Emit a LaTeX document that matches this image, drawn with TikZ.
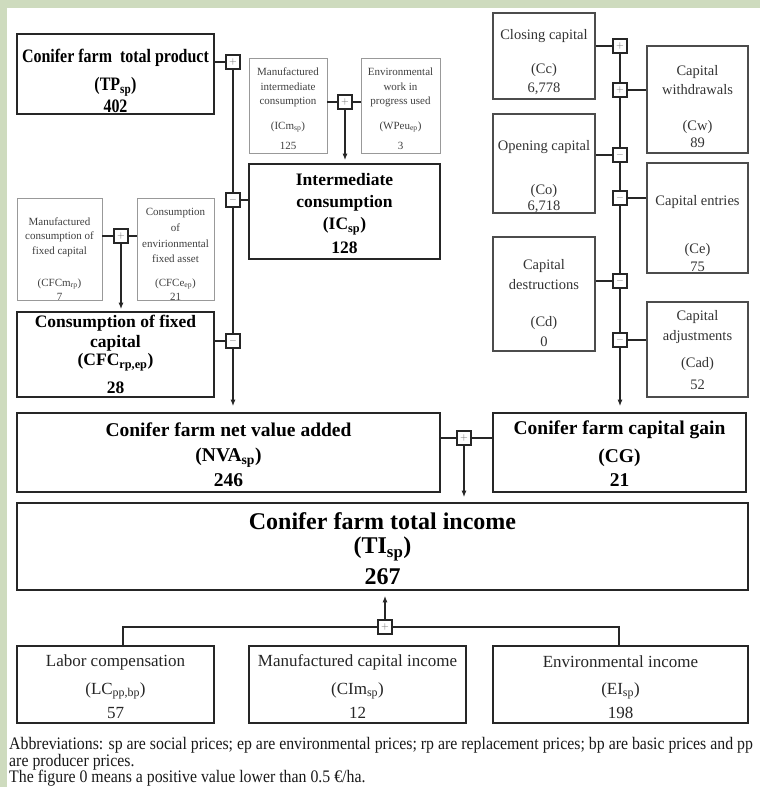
\documentclass[tikz,border=0pt]{standalone}
\usepackage{fontspec}
\setmainfont{Liberation Serif}
\newfontfamily\condtp[FakeStretch=0.84]{Liberation Serif}
\newfontfamily\condft[FakeStretch=0.9]{Liberation Serif}
\usetikzlibrary{arrows.meta}
\definecolor{bggreen}{RGB}{206,219,190}
\tikzset{
  bigbox/.style={draw=black!85, line width=1.6pt, inner sep=0pt},
  smallbox/.style={draw=black!40, line width=0.8pt, inner sep=0pt},
  capbox/.style={draw=black!70, line width=1.1pt, inner sep=0pt},
  signbox/.style={draw=black!85, fill=white, line width=1.3pt, minimum size=14pt, inner sep=0pt, font=\fontsize{10}{10}\selectfont, text=black!60},
  conn/.style={draw=black!85, line width=1.3pt},
  arr/.style={conn, -{Latex[length=6.5pt,width=5pt]}},
  txt/.style={inner sep=0pt, anchor=center},
  btA/.style={txt, font=\condtp\bfseries\fontsize{19}{21}\selectfont},
  btB/.style={txt, font=\bfseries\fontsize{17.5}{20}\selectfont},
  btC/.style={txt, font=\bfseries\fontsize{19.5}{22}\selectfont},
  btD/.style={txt, font=\bfseries\fontsize{24}{27}\selectfont},
  stx/.style={txt, font=\fontsize{11}{13}\selectfont, text=black!75},
  rtx/.style={txt, font=\fontsize{14.5}{17}\selectfont, text=black!80},
  ltx/.style={txt, font=\fontsize{17}{19}\selectfont, text=black!85},
  ftx/.style={inner sep=0pt, anchor=west, font=\condft\fontsize{17.6}{19}\selectfont, text=black!90},
}
\begin{document}
\begin{tikzpicture}[x=1pt,y=-1pt]
\useasboundingbox (0,0) rectangle (760,787);
\fill[bggreen] (0,0) rectangle (760,787);
\fill[white] (7,8) rectangle (760,787);

% ---------- boxes ----------
\node[bigbox, minimum width=197, minimum height=80] (tp) at (115.5,74) {};
\node[smallbox, minimum width=78, minimum height=95] (icm) at (288,105.5) {};
\node[smallbox, minimum width=79, minimum height=95] (wpeu) at (400.5,105.5) {};
\node[bigbox, minimum width=191, minimum height=95] (ic) at (344.5,211.5) {};
\node[smallbox, minimum width=85, minimum height=102] (cfcm) at (59.5,249) {};
\node[smallbox, minimum width=77, minimum height=102] (cfce) at (175.5,249) {};
\node[bigbox, minimum width=197, minimum height=85] (cfc) at (115.5,354.5) {};
\node[bigbox, minimum width=423, minimum height=79] (nva) at (228.5,452.5) {};
\node[bigbox, minimum width=253, minimum height=79] (cg) at (619.5,452.5) {};
\node[bigbox, minimum width=731, minimum height=87] (ti) at (382.5,546.5) {};
\node[bigbox, minimum width=197, minimum height=77] (lc) at (115.5,684.5) {};
\node[bigbox, minimum width=217, minimum height=77] (mci) at (357.5,684.5) {};
\node[bigbox, minimum width=255, minimum height=77] (ei) at (620.5,684.5) {};
\node[capbox, minimum width=102, minimum height=86] (cc) at (544,56) {};
\node[capbox, minimum width=101, minimum height=107] (cw) at (697.5,99.5) {};
\node[capbox, minimum width=102, minimum height=99] (co) at (544,163.5) {};
\node[capbox, minimum width=101, minimum height=110] (ce) at (697.5,218) {};
\node[capbox, minimum width=102, minimum height=114] (cd) at (544,294) {};
\node[capbox, minimum width=101, minimum height=95] (cad) at (697.5,349.5) {};

% ---------- sign squares ----------
\node[signbox] (s1) at (233,62) {$+$};
\node[signbox] (s2) at (233,200) {$-$};
\node[signbox] (s3) at (233,341) {$-$};
\node[signbox] (sic) at (345,102) {$+$};
\node[signbox] (scfc) at (121,236) {$+$};
\node[signbox] (snet) at (464,438) {$+$};
\node[signbox] (stot) at (385,627) {$+$};
\node[signbox] (r1) at (620,46) {$+$};
\node[signbox] (r2) at (620,90) {$+$};
\node[signbox] (r3) at (620,155) {$-$};
\node[signbox] (r4) at (620,198) {$-$};
\node[signbox] (r5) at (620,281) {$-$};
\node[signbox] (r6) at (620,340) {$-$};
\coordinate (tl) at (123,627);
\coordinate (tr) at (619,627);

% ---------- connectors ----------
\draw[conn] (s1.west -| tp.east) -- (s1.west);
\draw[conn] (s1.south) -- (s2.north);
\draw[conn] (s2.south) -- (s3.north);
\draw[conn] (s2.east) -- (s2 -| ic.west);
\draw[conn] (s3 -| cfc.east) -- (s3.west);
\draw[arr, shorten >=6pt] (s3.south) -- (s3 |- nva.north);
\draw[conn] (sic -| icm.east) -- (sic.west);
\draw[conn] (sic.east) -- (sic -| wpeu.west);
\draw[arr, shorten >=3pt] (sic.south) -- (sic |- ic.north);
\draw[conn] (scfc -| cfcm.east) -- (scfc.west);
\draw[conn] (scfc.east) -- (scfc -| cfce.west);
\draw[arr, shorten >=2pt] (scfc.south) -- (scfc |- cfc.north);
\draw[conn] (r1 -| cc.east) -- (r1.west);
\draw[conn] (r1.south) -- (r2.north);
\draw[conn] (r2.east) -- (r2 -| cw.west);
\draw[conn] (r2.south) -- (r3.north);
\draw[conn] (r3 -| co.east) -- (r3.west);
\draw[conn] (r3.south) -- (r4.north);
\draw[conn] (r4.east) -- (r4 -| ce.west);
\draw[conn] (r4.south) -- (r5.north);
\draw[conn] (r5 -| cd.east) -- (r5.west);
\draw[conn] (r5.south) -- (r6.north);
\draw[conn] (r6.east) -- (r6 -| cad.west);
\draw[arr, shorten >=6pt] (r6.south) -- (r6 |- cg.north);
\draw[conn] (snet -| nva.east) -- (snet.west);
\draw[conn] (snet.east) -- (snet -| cg.west);
\draw[arr, shorten >=5pt] (snet.south) -- (snet |- ti.north);
\draw[conn] (tl |- lc.north) -- (tl) -- (stot.west);
\draw[conn] (stot.east) -- (tr) -- (tr |- ei.north);
\draw[arr, shorten >=5pt] (stot.north) -- (stot |- ti.south);

% ---------- texts ----------
\node[btA] (tpa) at (115.5,58) {Conifer farm\ \ total product};
\node[btA] (tpb) at (115.5,87) {(TP\textsubscript{sp})};
\node[btA] (tpc) at (115.5,106.5) {402};

\node[stx] (icma) at (288,72) {Manufactured};
\node[stx] (icmb) at (288,87) {intermediate};
\node[stx] (icmc) at (288,102) {consumption};
\node[stx] (icmd) at (288,127) {(ICm\textsubscript{sp})};
\node[stx] (icme) at (288,146) {125};

\node[stx] (wpa) at (400.5,72) {Environmental};
\node[stx] (wpb) at (400.5,87) {work in};
\node[stx] (wpc) at (400.5,102) {progress used};
\node[stx] (wpd) at (400.5,127) {(WPeu\textsubscript{ep})};
\node[stx] (wpe) at (400.5,146) {3};

\node[btB] (ica) at (344.5,180) {Intermediate};
\node[btB] (icb) at (344.5,203) {consumption};
\node[btB] (icc) at (344.5,226) {(IC\textsubscript{sp})};
\node[btB] (icd) at (344.5,248) {128};

\node[stx] (cfcma) at (59.5,222) {Manufactured};
\node[stx] (cfcmb) at (59.5,237) {consumption of};
\node[stx] (cfcmc) at (59.5,252) {fixed capital};
\node[stx] (cfcmd) at (59.5,284) {(CFCm\textsubscript{rp})};
\node[stx] (cfcme) at (59.5,297) {7};

\node[stx] (cfcea) at (175.5,213) {Consumption};
\node[stx] (cfceb) at (175.5,228) {of};
\node[stx] (cfcec) at (175.5,244) {envirionmental};
\node[stx] (cfced) at (175.5,259) {fixed asset};
\node[stx] (cfcee) at (175.5,284) {(CFCe\textsubscript{ep})};
\node[stx] (cfcef) at (175.5,297) {21};

\node[btB] (cfca) at (115.5,323) {Consumption of fixed};
\node[btB] (cfcb) at (115.5,343) {capital};
\node[btB] (cfcc) at (115.5,362) {(CFC\textsubscript{rp,ep})};
\node[btB] (cfcd) at (115.5,388) {28};

\node[btC] (nvaa) at (228.5,430) {Conifer farm net value added};
\node[btC] (nvab) at (228.5,458) {(NVA\textsubscript{sp})};
\node[btC] (nvac) at (228.5,480) {246};

\node[btC] (cga) at (619.5,430) {Conifer farm capital gain};
\node[btC] (cgb) at (619.5,458) {(CG)};
\node[btC] (cgc) at (619.5,480) {21};

\node[btD] (tia) at (382.5,521) {Conifer farm total income};
\node[btD] (tib) at (382.5,549) {(TI\textsubscript{sp})};
\node[btD] (tic) at (382.5,577) {267};

\node[ltx] (lca) at (115.5,662) {Labor compensation};
\node[ltx] (lcb) at (115.5,691) {(LC\textsubscript{pp,bp})};
\node[ltx] (lcc) at (115.5,713) {57};

\node[ltx] (mcia) at (357.5,662) {Manufactured capital income};
\node[ltx] (mcib) at (357.5,691) {(CIm\textsubscript{sp})};
\node[ltx] (mcic) at (357.5,713) {12};

\node[ltx] (eia) at (620.5,662) {Environmental income};
\node[ltx] (eib) at (620.5,691) {(EI\textsubscript{sp})};
\node[ltx] (eic) at (620.5,713) {198};

\node[rtx] (cca) at (544,36) {Closing capital};
\node[rtx] (ccb) at (544,70) {(Cc)};
\node[rtx] (ccc) at (544,89) {6,778};

\node[rtx] (cwa) at (697.5,72) {Capital};
\node[rtx] (cwb) at (697.5,90) {withdrawals};
\node[rtx] (cwc) at (697.5,127) {(Cw)};
\node[rtx] (cwd) at (697.5,143) {89};

\node[rtx] (coa) at (544,147) {Opening capital};
\node[rtx] (cob) at (544,191) {(Co)};
\node[rtx] (coc) at (544,207) {6,718};

\node[rtx] (cea) at (697.5,202) {Capital entries};
\node[rtx] (ceb) at (697.5,250) {(Ce)};
\node[rtx] (cec) at (697.5,267) {75};

\node[rtx] (cda) at (544,266) {Capital};
\node[rtx] (cdb) at (544,285) {destructions};
\node[rtx] (cdc) at (544,323) {(Cd)};
\node[rtx] (cdd) at (544,342) {0};

\node[rtx] (cada) at (697.5,317) {Capital};
\node[rtx] (cadb) at (697.5,337) {adjustments};
\node[rtx] (cadc) at (697.5,364) {(Cad)};
\node[rtx] (cadd) at (697.5,385) {52};

% ---------- footnote ----------
\node[ftx] (fa) at (9,745) {Abbreviations: sp are social prices; ep are environmental prices; rp are replacement prices; bp are basic prices and pp};
\node[ftx] (fb) at (9,762) {are producer prices.};
\node[ftx] (fc) at (9,778.5) {The figure 0 means a positive value lower than 0.5 €/ha.};
\end{tikzpicture}
\end{document}
